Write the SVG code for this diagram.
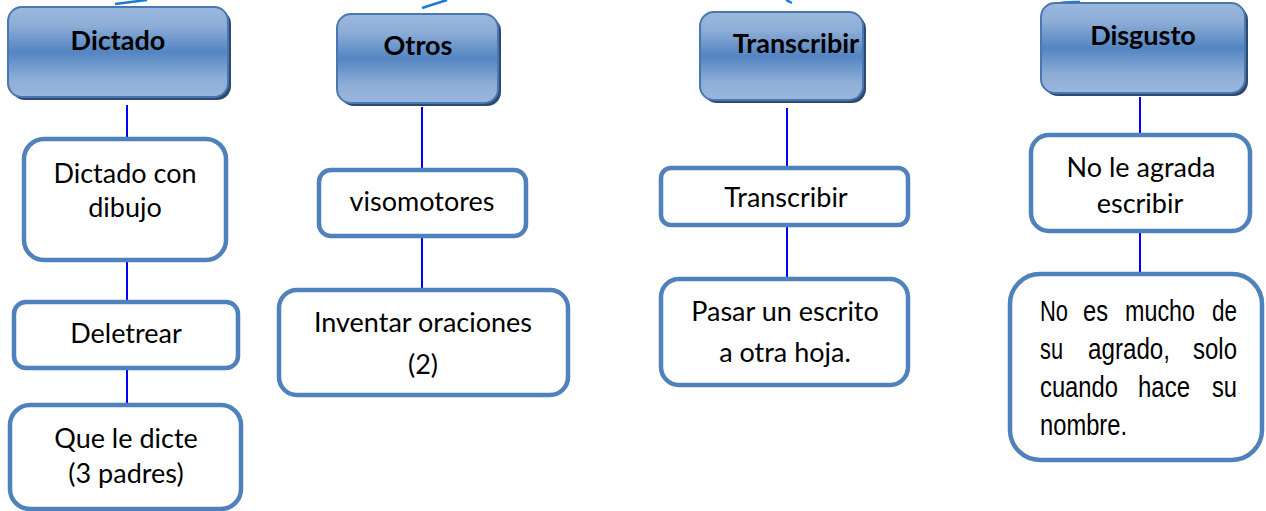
<svg xmlns="http://www.w3.org/2000/svg" width="1266" height="511" viewBox="0 0 1266 511">
<defs>
<linearGradient id="hg" x1="0" y1="0" x2="0" y2="1">
<stop offset="0" stop-color="#9bb8dd"/>
<stop offset="0.2" stop-color="#8eaed7"/>
<stop offset="0.5" stop-color="#5485c2"/>
<stop offset="0.8" stop-color="#8eaed7"/>
<stop offset="1" stop-color="#9ab7dc"/>
</linearGradient>
</defs>
<style>
.hd{fill:url(#hg);stroke:#4a77b2;stroke-width:2}
.sh{fill:#2c4a72}
.bx{fill:#fff;stroke:#4f81bd;stroke-width:4.5}
.ht{font-family:Lato,"Liberation Sans",sans-serif;font-weight:bold;font-size:27px;fill:#000;text-anchor:middle}
.bt{font-family:Lato,"Liberation Sans",sans-serif;font-size:27px;fill:#000;text-anchor:middle}
.at{font-family:"Liberation Sans",Arial,sans-serif;font-size:29px;fill:#000}
.cn{stroke:#0000ff;stroke-width:2;fill:none}
.tp{stroke:#1b7ad6;stroke-width:2.5;fill:none}
</style>
<g id="connectors">
<path class="tp" d="M115,4 L147,0"/>
<path class="tp" d="M422,8 L447,0"/>
<path class="tp" d="M786,0 L792,3"/>
<path class="tp" d="M1044,11 Q1052,1 1080,2"/>
<line class="cn" x1="127" y1="105" x2="127" y2="138"/>
<line class="cn" x1="127" y1="262" x2="127" y2="301"/>
<line class="cn" x1="127" y1="370" x2="127" y2="404"/>
<line class="cn" x1="422" y1="107" x2="422" y2="169"/>
<line class="cn" x1="422" y1="238" x2="422" y2="289"/>
<line class="cn" x1="787" y1="108" x2="787" y2="167"/>
<line class="cn" x1="787" y1="227" x2="787" y2="278"/>
<line class="cn" x1="1140" y1="97" x2="1140" y2="134"/>
<line class="cn" x1="1140" y1="233" x2="1140" y2="273"/>
</g>
<g id="h-dictado">
<rect class="sh" x="11" y="10" width="220" height="90" rx="14"/>
<rect class="hd" x="8" y="7" width="220" height="90" rx="14"/>
<text class="ht" x="118" y="50">Dictado</text>
</g>
<g id="h-otros">
<rect class="sh" x="340" y="17" width="161" height="89" rx="14"/>
<rect class="hd" x="337" y="14" width="161" height="89" rx="14"/>
<text class="ht" x="418" y="55">Otros</text>
</g>
<g id="h-transcribir">
<rect class="sh" x="703" y="15" width="163" height="88" rx="14"/>
<rect class="hd" x="700" y="12" width="163" height="88" rx="14"/>
<text class="ht" x="796" y="53">Transcribir</text>
</g>
<g id="h-disgusto">
<rect class="sh" x="1044" y="6" width="204" height="90" rx="14"/>
<rect class="hd" x="1041" y="3" width="204" height="90" rx="14"/>
<text class="ht" x="1143" y="45">Disgusto</text>
</g>
<g id="n-dictado-con-dibujo">
<rect class="bx" x="24" y="139" width="202" height="121" rx="20"/>
<text class="bt" x="125" y="183">Dictado con</text>
<text class="bt" x="125" y="217">dibujo</text>
</g>
<g id="n-deletrear">
<rect class="bx" x="14" y="302" width="224" height="66" rx="12"/>
<text class="bt" x="126" y="343">Deletrear</text>
</g>
<g id="n-que-le-dicte">
<rect class="bx" x="10" y="405" width="231" height="104" rx="20"/>
<text class="bt" x="126" y="448">Que le dicte</text>
<text class="bt" x="126" y="483">(3 padres)</text>
</g>
<g id="n-visomotores">
<rect class="bx" x="319" y="170" width="207" height="66" rx="12"/>
<text class="bt" x="422" y="211">visomotores</text>
</g>
<g id="n-inventar">
<rect class="bx" x="279" y="290" width="289" height="105" rx="18"/>
<text class="bt" x="423" y="332">Inventar oraciones</text>
<text class="bt" x="423" y="374">(2)</text>
</g>
<g id="n-transcribir">
<rect class="bx" x="661" y="168" width="247" height="57" rx="10"/>
<text class="bt" x="786" y="207">Transcribir</text>
</g>
<g id="n-pasar">
<rect class="bx" x="661" y="279" width="247" height="106" rx="18"/>
<text class="bt" x="785" y="321">Pasar un escrito</text>
<text class="bt" x="785" y="362">a otra hoja.</text>
</g>
<g id="n-no-le-agrada">
<rect class="bx" x="1031" y="135" width="219" height="96" rx="18"/>
<text class="bt" x="1141" y="177">No le agrada</text>
<text class="bt" x="1140" y="213">escribir</text>
</g>
<g id="n-no-es-mucho">
<rect class="bx" x="1010" y="274" width="252" height="186" rx="30"/>
<text class="at" x="1040" y="321" textLength="28" lengthAdjust="spacingAndGlyphs">No</text>
<text class="at" x="1083" y="321" textLength="25" lengthAdjust="spacingAndGlyphs">es</text>
<text class="at" x="1125" y="321" textLength="70" lengthAdjust="spacingAndGlyphs">mucho</text>
<text class="at" x="1212" y="321" textLength="25" lengthAdjust="spacingAndGlyphs">de</text>
<text class="at" x="1040" y="359" textLength="23" lengthAdjust="spacingAndGlyphs">su</text>
<text class="at" x="1088" y="359" textLength="82" lengthAdjust="spacingAndGlyphs">agrado,</text>
<text class="at" x="1193" y="359" textLength="44" lengthAdjust="spacingAndGlyphs">solo</text>
<text class="at" x="1040" y="397" textLength="78" lengthAdjust="spacingAndGlyphs">cuando</text>
<text class="at" x="1138" y="397" textLength="52" lengthAdjust="spacingAndGlyphs">hace</text>
<text class="at" x="1212" y="397" textLength="25" lengthAdjust="spacingAndGlyphs">su</text>
<text class="at" x="1040" y="435" textLength="87" lengthAdjust="spacingAndGlyphs">nombre.</text>
</g>
</svg>
